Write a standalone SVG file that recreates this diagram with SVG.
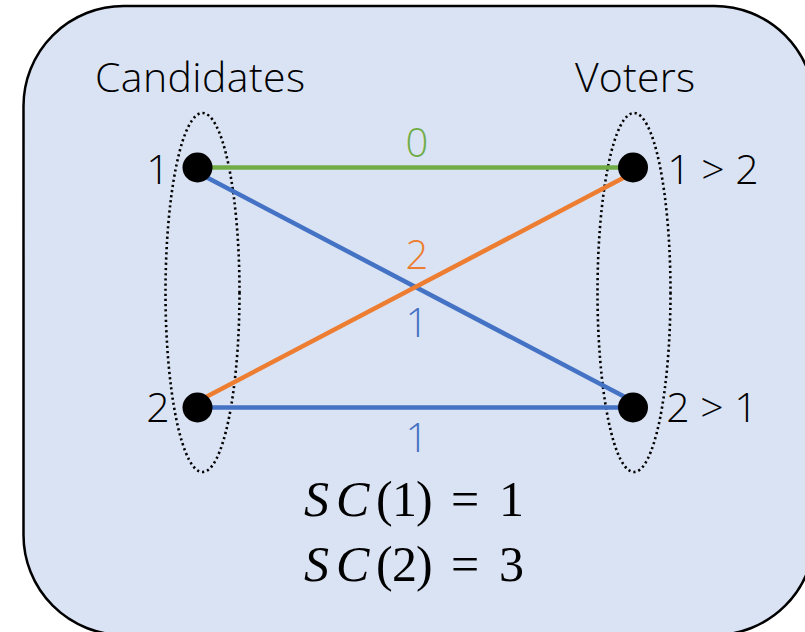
<svg xmlns="http://www.w3.org/2000/svg" width="805" height="632" viewBox="0 0 805 632">
<style>
.t{font-family:"Open Sans","Liberation Sans",sans-serif;font-weight:300;font-size:41px;fill:#000}
.lbl{font-family:"Open Sans","Liberation Sans",sans-serif;font-weight:300;font-size:40px;text-anchor:middle}
.m{font-family:"Liberation Serif","DejaVu Serif",serif;font-size:50px;fill:#000}
.e{fill:none;stroke:#4472C4;stroke-width:4.5;stroke-linecap:butt}
.grp{fill:none;stroke:#000;stroke-width:2.6;stroke-dasharray:2.2 3;}
.node{fill:#000}
</style>
<rect x="23.5" y="6" width="791" height="629" rx="100" ry="100" fill="#DAE3F3" stroke="#000" stroke-width="2.5"/>
<text class="t" x="95" y="92" textLength="210" lengthAdjust="spacing">Candidates</text>
<text class="t" x="575" y="92" textLength="120" lengthAdjust="spacing">Voters</text>
<ellipse class="grp" cx="202.5" cy="292.5" rx="37" ry="179.5"/>
<ellipse class="grp" cx="634" cy="292.5" rx="36.5" ry="179.5"/>
<g id="connectors">
<line x1="207" y1="167.5" x2="625" y2="167.5" class="e" style="stroke:#70AD47"/>
<line x1="206" y1="177" x2="625" y2="397" class="e"/>
<line x1="206" y1="397" x2="625" y2="177" class="e" style="stroke:#ED7D31"/>
<line x1="207" y1="407.5" x2="625" y2="407.5" class="e"/>
<text class="lbl" x="417" y="157" fill="#70AD47">0</text>
<text class="lbl" x="417" y="269" fill="#ED7D31">2</text>
<text class="lbl" x="417" y="337" fill="#4472C4">1</text>
<text class="lbl" x="417" y="452" fill="#4472C4">1</text>
</g>
<g id="c1"><circle class="node" cx="197.5" cy="167.5" r="15"/><text class="t" x="158" y="184" text-anchor="middle">1</text></g>
<g id="c2"><circle class="node" cx="197.5" cy="407.5" r="15"/><text class="t" x="158" y="422" text-anchor="middle">2</text></g>
<g id="v1"><circle class="node" cx="633" cy="167.5" r="15"/><text class="t" x="713" y="184" text-anchor="middle">1 &gt; 2</text></g>
<g id="v2"><circle class="node" cx="633" cy="407.5" r="15"/><text class="t" x="712" y="422" text-anchor="middle">2 &gt; 1</text></g>
<g id="formula">
<text class="m" y="516"><tspan x="304" font-style="italic">S</tspan><tspan x="336" font-style="italic">C</tspan><tspan x="376">(</tspan><tspan x="392">1</tspan><tspan x="416">)</tspan><tspan x="451">=</tspan><tspan x="499">1</tspan></text>
<text class="m" y="581"><tspan x="304" font-style="italic">S</tspan><tspan x="336" font-style="italic">C</tspan><tspan x="376">(</tspan><tspan x="392">2</tspan><tspan x="416">)</tspan><tspan x="451">=</tspan><tspan x="499">3</tspan></text>
</g>
</svg>
